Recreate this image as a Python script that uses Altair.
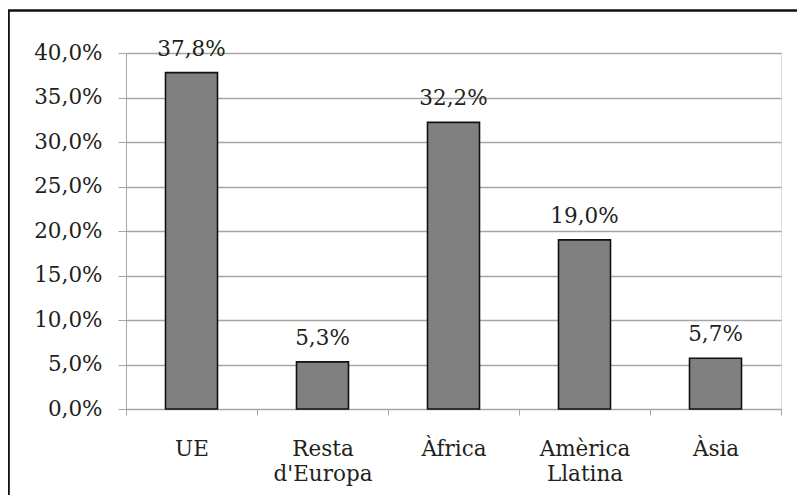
import altair as alt
import pandas as pd

categories = ["UE", "Resta d'Europa", "Àfrica", "Amèrica Llatina", "Àsia"]
values = [37.8, 5.3, 32.2, 19.0, 5.7]
y_ticks = [0, 5, 10, 15, 20, 25, 30, 35, 40]

df = pd.DataFrame({"cat": categories, "val": values})
df["lab"] = [f"{v:.1f}".replace(".", ",") + "%" for v in values]

FONT = "DejaVu Serif"
FS = 21.5
TXT = "#231f20"
GRID = "#a6a6a6"

x = alt.X("cat:N", sort=categories, title=None,
          scale=alt.Scale(paddingInner=0, paddingOuter=0),
          axis=alt.Axis(labelAngle=0, labelExpr="split(datum.label, ' ')",
                        labelFont=FONT, labelFontSize=FS, labelColor=TXT,
                        labelLineHeight=25, labelPadding=23,
                        tickBand="extent", tickSize=6, tickColor=GRID,
                        domainColor=GRID, grid=False))
y = alt.Y("val:Q", title=None,
          scale=alt.Scale(domain=[0, 40], nice=False),
          axis=alt.Axis(values=y_ticks,
                        labelExpr="replace(format(datum.value, '.1f'), '.', ',') + '%'",
                        labelFont=FONT, labelFontSize=FS, labelColor=TXT,
                        labelPadding=16, tickSize=8, tickColor=GRID,
                        domainColor=GRID, gridColor=GRID, gridWidth=1.3))

bars = alt.Chart(df).mark_bar(size=52, color="#808080", stroke="#111111",
                              strokeWidth=1.6).encode(x=x, y=y)
labels = alt.Chart(df).mark_text(font=FONT, fontSize=FS, color=TXT,
                                 baseline="alphabetic", dy=-17).encode(
    x=alt.X("cat:N", sort=categories), y="val:Q", text="lab:N")

frame = alt.Chart(pd.DataFrame({"a": [0]})).mark_rect(
    fill="transparent", stroke="#111111", strokeWidth=2.6).encode(
    x=alt.value(-117.5), x2=alt.value(900), y=alt.value(-42.5), y2=alt.value(700))

chart = alt.layer(bars, labels, frame).properties(
    width=655, height=356,
    padding={"left": 118, "top": 45, "right": 16, "bottom": 86},
    autosize=alt.AutoSizeParams(type="none"),
).configure_view(stroke=None).configure(background="white")

chart.save("out.html", embed_options={"renderer": "svg", "actions": False})
